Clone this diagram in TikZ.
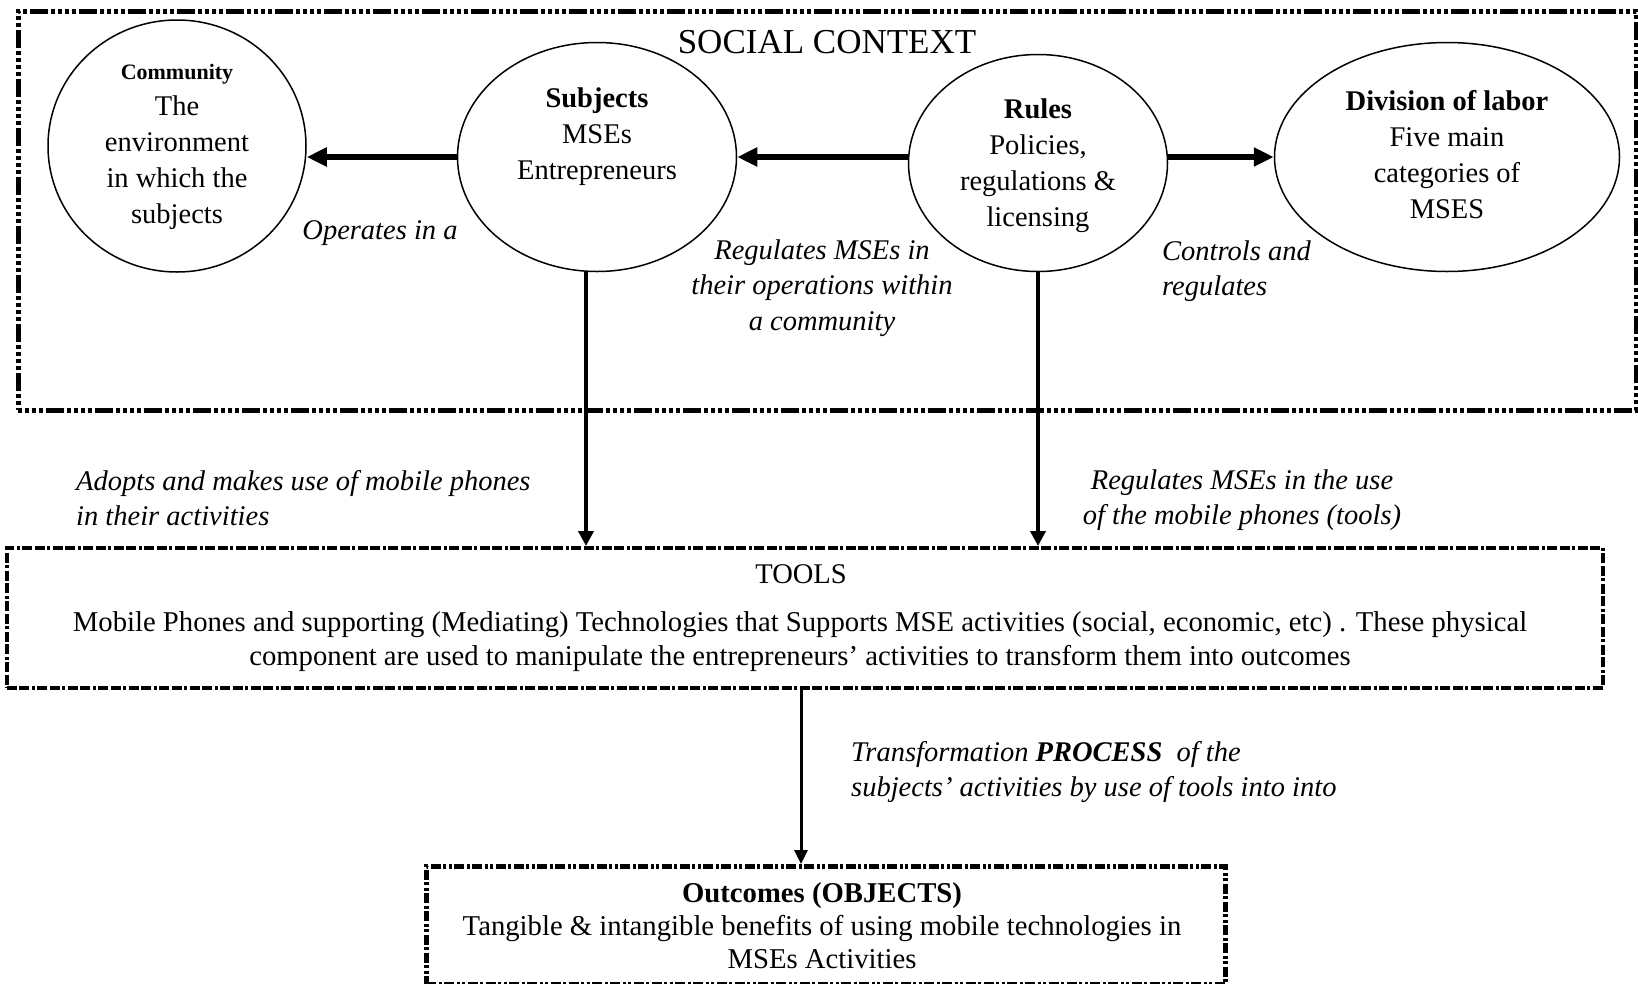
\documentclass[tikz,border=0pt]{standalone}
\usepackage{fontspec}
\setmainfont{Liberation Serif}
\usetikzlibrary{arrows.meta,shapes.geometric}
\begin{document}
\begin{tikzpicture}[x=1pt,y=-1pt,
  oval/.style={draw,ellipse,line width=1.5pt,inner sep=0pt},
  txt/.style={font=\fontsize{28.5}{36}\selectfont,align=center,inner sep=0pt},
  lbl/.style={font=\fontsize{28.5}{35.5}\selectfont\itshape,inner sep=0pt},
  frameA/.style={draw,rectangle,inner sep=0pt,anchor=north west,line width=4.5pt,dash pattern=on 4pt off 3pt on 4pt off 3pt on 4pt off 3pt on 4pt off 3pt on 18pt off 3pt},
  frameB/.style={draw,rectangle,inner sep=0pt,anchor=north west,line width=3.5pt,dash pattern=on 10pt off 2.5pt on 10pt off 2.5pt on 3pt off 2.5pt},
  frameC/.style={draw,rectangle,inner sep=0pt,anchor=north west,line width=4.5pt,dash pattern=on 10pt off 2.5pt on 3pt off 2.5pt on 10pt off 2.5pt on 3pt off 2.5pt on 3pt off 2.5pt},
  bigarrow/.style={line width=6pt,-{Triangle[length=20pt,width=18pt]}},
  downarrow/.style={line width=4.5pt,-{Triangle[length=15pt,width=15pt]}},
  thinarrow/.style={line width=3pt,-{Triangle[length=14pt,width=13pt]}}]
\fill[white] (0,0) rectangle (1638,983);
\useasboundingbox (0,0) rectangle (1638,983);

% frames
\node[frameA,minimum width=1618pt,minimum height=399pt] (social) at (16,9) {};
\node[frameB,minimum width=1596pt,minimum height=140pt] (tools) at (5,546) {};
\node[frameC,minimum width=799pt,minimum height=118pt] (outc) at (424,864) {};

\node[font=\fontsize{35}{40}\selectfont,inner sep=0pt] (stitle) at (827,42) {SOCIAL CONTEXT};

% ellipses
\node[oval,minimum width=258pt,minimum height=252pt] (comm) at (177,146) {};
\node[oval,minimum width=279pt,minimum height=229pt] (subj) at (597,157) {};
\node[oval,minimum width=259pt,minimum height=217pt] (rules) at (1038,163) {};
\node[oval,minimum width=345pt,minimum height=229pt] (div) at (1447,157) {};

\node[txt] (tcomm) at (177,147) {{\fontsize{22}{26}\selectfont\bfseries Community}\\The\\environment\\in which the\\subjects};
\node[txt] (tsubj) at (597,137) {\textbf{Subjects}\\MSEs\\Entrepreneurs};
\node[txt] (trules) at (1038,166) {\textbf{Rules}\\Policies,\\regulations \&\\licensing};
\node[txt] (tdiv) at (1447,155) {\textbf{Division of labor}\\Five main\\categories of\\MSES};

% horizontal arrows
\draw[bigarrow] (subj.west) -- (subj.west -| comm.east);
\draw[bigarrow] (rules.west |- subj.west) -- (subj.east);
\draw[bigarrow] (rules.east |- div.west) -- (div.west);

% labels in social context
\node[lbl] (lop) at (380,233) {Operates in a};
\node[lbl,align=center] (lreg) at (822,288) {Regulates MSEs in\\their operations within\\a community};
\node[lbl,align=left,anchor=west] (lctrl) at (1162,271) {Controls and\\regulates};

% vertical arrows
\coordinate (sx) at (586,0);
\draw[downarrow] (sx |- subj.south) -- (sx |- tools.north);
\draw[downarrow] (rules.south) -- (rules.south |- tools.north);

\node[lbl,align=left,anchor=west] (ladopt) at (76,498) {Adopts and makes use of mobile phones\\in their activities};
\node[lbl,align=center] (lreg2) at (1242,500) {Regulates MSEs in the use\\of the mobile phones (tools)};

% tools text
\node[txt] (ttools) at (801,574) {TOOLS};
\node[txt,font=\fontsize{28.7}{34}\selectfont] (tdesc) at (800,642) {Mobile Phones and supporting (Mediating) Technologies that Supports MSE activities (social, economic, etc) . These physical\\component are used to manipulate the entrepreneurs' activities to transform them into outcomes};

% tools -> outcomes
\draw[thinarrow] (tools.south -| ttools) -- (ttools |- outc.north);
\node[lbl,align=left,anchor=west] (ltrans) at (851,772) {Transformation \textbf{PROCESS}\ \ of the\\subjects' activities by use of tools into into};

\node[txt,font=\fontsize{28.7}{33}\selectfont] (touts) at (822,926) {\textbf{Outcomes (OBJECTS)}\\Tangible \& intangible benefits of using mobile technologies in\\MSEs Activities};
\end{tikzpicture}
\end{document}
